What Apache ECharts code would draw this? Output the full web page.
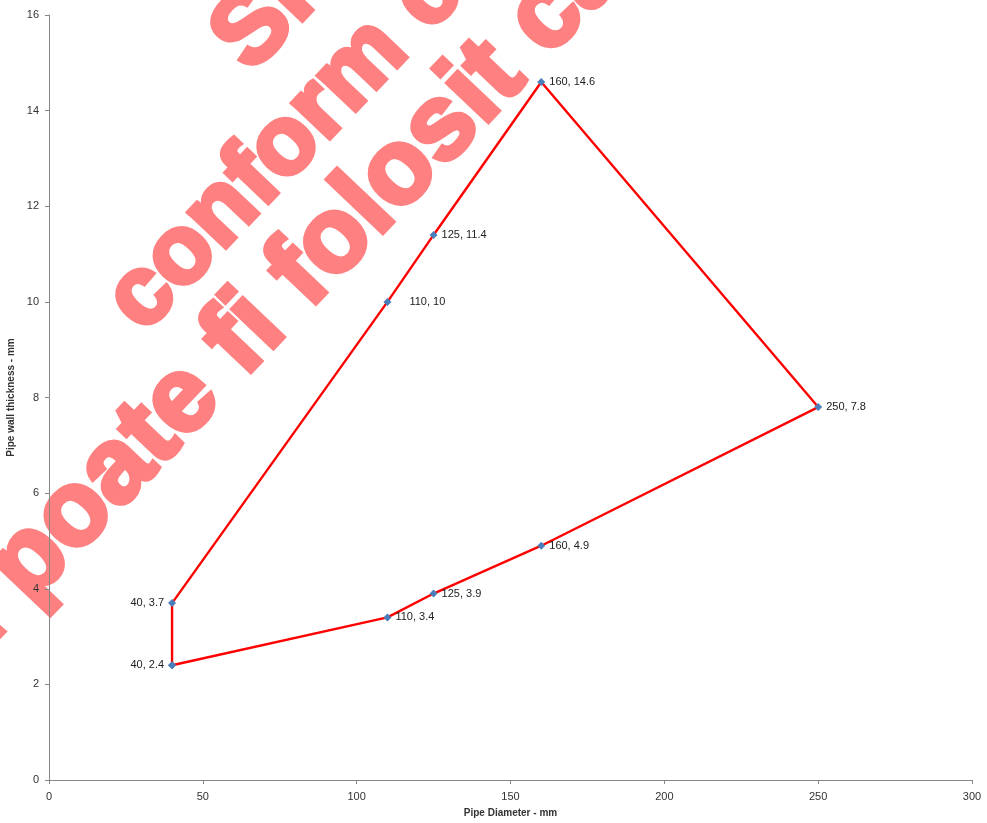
<!DOCTYPE html>
<html>
<head>
<meta charset="utf-8">
<script src="https://cdn.jsdelivr.net/npm/echarts@6/dist/echarts.min.js"></script>
<style>
  html, body { margin: 0; padding: 0; background: #fff; }
  #chart { width: 987px; height: 823px; }
</style>
</head>
<body>
<div id="chart"></div>
<script>
// pipe diameter (mm) vs wall thickness (mm), drawn as a closed outline
const diameters = [40, 110, 125, 160, 250, 160, 125, 110, 40, 40];
const thickness = [2.4, 3.4, 3.9, 4.9, 7.8, 14.6, 11.4, 10, 3.7, 2.4];
const xTicks = [0, 50, 100, 150, 200, 250, 300];
const yTicks = [0, 2, 4, 6, 8, 10, 12, 14, 16];
const xName = "Pipe Diameter - mm";
const yName = "Pipe wall thickness - mm";
const watermarkLines = ["Sh", "conform c", "poate fi folosit ca"];

const chart = echarts.init(document.getElementById("chart"));

const points = diameters.map((d, i) => {
  const last = i === diameters.length - 1;
  let label = { show: !last };
  if (d === 40) label.position = "left";
  if (d === 110 && thickness[i] === 10) label.offset = [14, 0];
  return { value: [d, thickness[i]], label: label };
});

// watermark, tilted text
const wmRot = (46.5 * Math.PI) / 180;
const wm = (text, x, y, align, size) => ({
  type: "text",
  x: x,
  y: y,
  rotation: wmRot,
  z: -10,
  silent: true,
  style: {
    text: text,
    textAlign: align,
    textVerticalAlign: "middle",
    fill: "#ff8080",
    stroke: "#ff8080",
    lineWidth: 5,
    font: "bold " + size + "px 'Liberation Sans', Arial, sans-serif",
  },
});

const option = {
  animation: false,
  backgroundColor: "#fff",
  grid: { left: 49, right: 15, top: 15, bottom: 43, outerBoundsMode: "none" },
  graphic: [
    wm(watermarkLines[0], 231, 55, "left", 101),
    wm(watermarkLines[1], 124, 316, "left", 97),
    wm(watermarkLines[2], 8, 585, "left", 106),
    wm("Nu ", 8, 585, "right", 106),
  ],
  xAxis: {
    type: "value",
    min: xTicks[0],
    max: xTicks[xTicks.length - 1],
    interval: xTicks[1] - xTicks[0],
    name: xName,
    nameLocation: "middle",
    nameGap: 28,
    nameMoveOverlap: false,
    nameTextStyle: { fontSize: 10, fontWeight: "bold", color: "#333", fontFamily: "Liberation Sans" },
    splitLine: { show: false },
    axisLine: { show: true, lineStyle: { color: "#868686", width: 1 } },
    axisTick: { show: true, length: 4, lineStyle: { color: "#868686" } },
    axisLabel: { color: "#333", fontSize: 11, fontFamily: "Liberation Sans", margin: 11 },
  },
  yAxis: {
    type: "value",
    min: yTicks[0],
    max: yTicks[yTicks.length - 1],
    interval: yTicks[1] - yTicks[0],
    name: yName,
    nameLocation: "middle",
    nameGap: 33,
    nameMoveOverlap: false,
    nameTextStyle: { fontSize: 10, fontWeight: "bold", color: "#333", fontFamily: "Liberation Sans" },
    splitLine: { show: false },
    axisLine: { show: true, lineStyle: { color: "#868686", width: 1 } },
    axisTick: { show: true, length: 4, lineStyle: { color: "#868686" } },
    axisLabel: { color: "#333", fontSize: 11, fontFamily: "Liberation Sans", margin: 10 },
  },
  series: [
    {
      type: "line",
      data: points,
      smooth: false,
      symbol: "diamond",
      symbolSize: 8,
      itemStyle: { color: "#4a7ebb" },
      lineStyle: { color: "#ff0000", width: 2.4 },
      label: {
        show: true,
        position: "right",
        distance: 4,
        color: "#222",
        fontSize: 11,
        fontFamily: "Liberation Sans",
        formatter: (p) => p.value[0] + ", " + p.value[1],
      },
      z: 3,
    },
  ],
};

option && chart.setOption(option);
</script>
</body>
</html>
